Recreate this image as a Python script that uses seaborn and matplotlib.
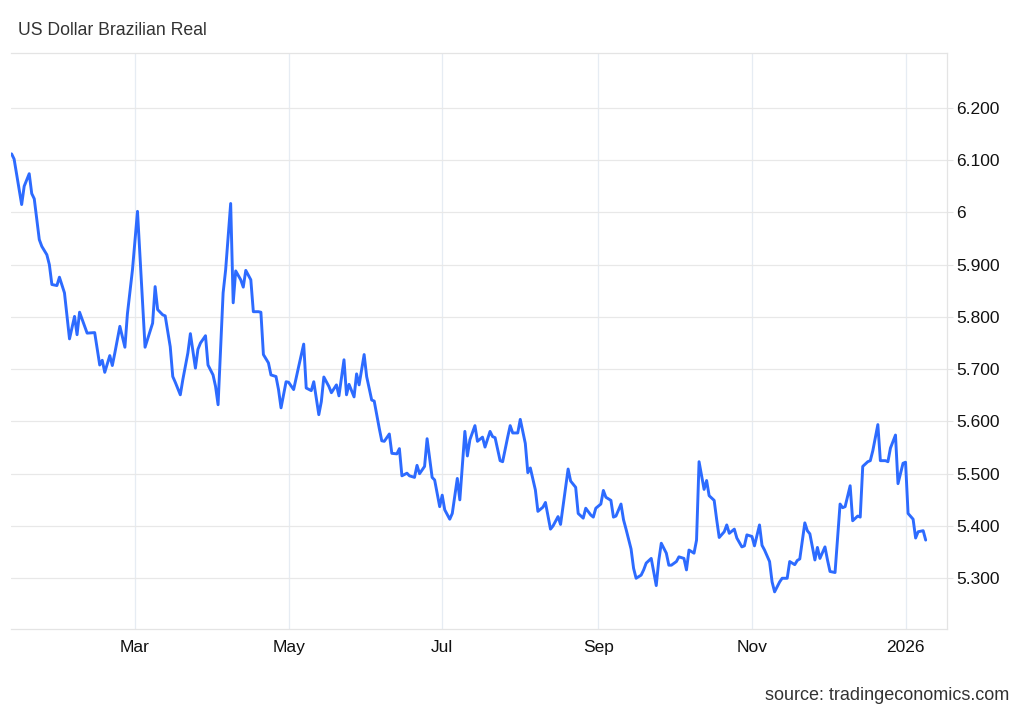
# Gráfico del tipo de cambio USD/BRL (último año)
import pandas as pd
import numpy as np
import matplotlib
matplotlib.use('Agg')
import matplotlib.pyplot as plt
import seaborn as sns

# Datos: día del año (desde 2025-01-01) y cotización
dias = [10, 11, 14, 15, 17, 18, 19, 21, 22, 24, 25, 26, 28, 29, 31, 33, 35, 36, 37, 40,
        43, 45, 46, 47, 49, 50, 51, 53, 55, 56, 58, 60, 63, 66, 67, 68, 70, 71, 73, 74,
        75, 77, 78, 80, 81, 83, 84, 85, 87, 88, 90, 91, 92, 94, 95, 97, 98, 99, 101, 102,
        103, 105, 106, 108, 109, 110, 112, 113, 115, 116, 117, 119, 120, 122, 123, 124, 126, 127, 129, 130,
        132, 133, 134, 136, 137, 139, 140, 142, 143, 144, 146, 147, 148, 150, 151, 153, 154, 156, 157, 158,
        160, 161, 163, 164, 165, 167, 168, 170, 171, 172, 174, 175, 177, 178, 180, 181, 182, 184, 185, 187,
        188, 190, 191, 192, 194, 195, 197, 198, 200, 201, 202, 204, 205, 207, 208, 209, 211, 212, 214, 215,
        216, 218, 219, 221, 222, 224, 225, 227, 228, 229, 231, 232, 234, 235, 237, 238, 240, 241, 242, 244,
        245, 246, 248, 249, 250, 252, 253, 254, 256, 257, 258, 260, 261, 262, 264, 266, 267, 268, 270, 271,
        272, 274, 275, 277, 278, 279, 281, 282, 283, 285, 286, 287, 289, 290, 291, 293, 294, 295, 297, 298,
        300, 301, 302, 304, 305, 307, 308, 309, 311, 312, 313, 315, 316, 318, 319, 321, 322, 323, 325, 326,
        327, 329, 330, 331, 333, 334, 335, 337, 339, 340, 341, 343, 344, 346, 347, 348, 350, 351, 352, 354,
        355, 357, 358, 359, 361, 362, 364, 365, 366, 368, 369, 370, 372, 373]

tasa = [6.112, 6.102, 6.015, 6.050, 6.074, 6.036, 6.026, 5.948, 5.935, 5.919, 5.900, 5.862, 5.860, 5.876, 5.846, 5.758, 5.801, 5.766, 5.809, 5.769,
        5.770, 5.708, 5.717, 5.694, 5.726, 5.707, 5.731, 5.782, 5.742, 5.806, 5.890, 6.002, 5.742, 5.788, 5.858, 5.814, 5.804, 5.802, 5.743, 5.686,
        5.675, 5.651, 5.680, 5.731, 5.768, 5.702, 5.738, 5.750, 5.764, 5.708, 5.689, 5.667, 5.632, 5.846, 5.890, 6.017, 5.827, 5.888, 5.871, 5.857,
        5.889, 5.871, 5.810, 5.810, 5.809, 5.728, 5.712, 5.689, 5.686, 5.661, 5.626, 5.676, 5.675, 5.661, 5.683, 5.705, 5.748, 5.664, 5.659, 5.676,
        5.613, 5.638, 5.685, 5.667, 5.655, 5.670, 5.649, 5.718, 5.651, 5.671, 5.647, 5.691, 5.670, 5.728, 5.686, 5.641, 5.639, 5.587, 5.563, 5.562,
        5.576, 5.539, 5.538, 5.548, 5.496, 5.501, 5.496, 5.493, 5.516, 5.500, 5.514, 5.567, 5.493, 5.488, 5.437, 5.459, 5.431, 5.413, 5.424, 5.491,
        5.450, 5.581, 5.534, 5.565, 5.592, 5.562, 5.570, 5.551, 5.581, 5.571, 5.569, 5.525, 5.523, 5.570, 5.592, 5.578, 5.578, 5.604, 5.558, 5.502,
        5.511, 5.469, 5.428, 5.436, 5.445, 5.394, 5.400, 5.418, 5.403, 5.438, 5.509, 5.486, 5.474, 5.424, 5.415, 5.434, 5.421, 5.417, 5.434, 5.442,
        5.468, 5.455, 5.449, 5.417, 5.419, 5.442, 5.412, 5.394, 5.356, 5.319, 5.300, 5.306, 5.316, 5.329, 5.338, 5.286, 5.334, 5.367, 5.348, 5.325,
        5.325, 5.332, 5.341, 5.338, 5.316, 5.354, 5.348, 5.373, 5.523, 5.470, 5.487, 5.458, 5.449, 5.412, 5.378, 5.389, 5.402, 5.386, 5.394, 5.377,
        5.360, 5.362, 5.383, 5.380, 5.362, 5.402, 5.363, 5.354, 5.332, 5.293, 5.274, 5.293, 5.300, 5.300, 5.332, 5.326, 5.334, 5.337, 5.406, 5.391,
        5.385, 5.335, 5.359, 5.338, 5.360, 5.335, 5.313, 5.311, 5.442, 5.435, 5.437, 5.477, 5.410, 5.419, 5.417, 5.514, 5.523, 5.525, 5.544, 5.594,
        5.525, 5.525, 5.523, 5.549, 5.574, 5.481, 5.520, 5.522, 5.424, 5.413, 5.377, 5.389, 5.391, 5.373]

# Marcas de los ejes
meses = ['2025-03-01', '2025-05-01', '2025-07-01', '2025-09-01', '2025-11-01', '2026-01-01']
etiquetas_meses = ['Mar', 'May', 'Jul', 'Sep', 'Nov', '2026']
niveles = [5.3, 5.4, 5.5, 5.6, 5.7, 5.8, 5.9, 6.0, 6.1, 6.2]
etiquetas_niveles = ['5.300', '5.400', '5.500', '5.600', '5.700', '5.800', '5.900', '6', '6.100', '6.200']

df = pd.DataFrame({
    'fecha': pd.Timestamp('2025-01-01') + pd.to_timedelta(dias, unit='D'),
    'tasa': tasa,
})

sns.set_style('white')
plt.rcParams['font.family'] = ['Liberation Sans', 'DejaVu Sans']

fig = plt.figure(figsize=(10.24, 7.10), dpi=100)
ax = fig.add_axes([0.0107, 0.1134, 0.914, 0.812])

sns.lineplot(data=df, x='fecha', y='tasa', ax=ax, color='#2D6BFF', linewidth=2.1)

ax.set_xlabel('')
ax.set_ylabel('')
ax.set_xlim(pd.Timestamp('2025-01-10 18:00'), pd.Timestamp('2026-01-17 10:00'))
ax.set_ylim(5.202, 6.305)

ax.set_xticks(pd.to_datetime(meses))
ax.set_xticklabels(etiquetas_meses)
ax.set_yticks(niveles)
ax.set_yticklabels(etiquetas_niveles)
ax.yaxis.tick_right()

ax.tick_params(axis='x', length=0, pad=7.5, labelsize=12.5, labelcolor='#111111')
ax.tick_params(axis='y', length=4.3, width=0.8, color='#e4e4e4', pad=2.2,
               labelsize=12.5, labelcolor='#111111')

# Rejilla
ax.set_axisbelow(True)
ax.grid(axis='y', color='#e8e8e8', linewidth=0.9)
ax.grid(axis='x', color='#e6ecf3', linewidth=0.9)

for lado in ['top', 'right', 'bottom']:
    ax.spines[lado].set_color('#e4e4e4')
    ax.spines[lado].set_linewidth(0.9)
ax.spines['left'].set_visible(False)

# Textos
fig.text(0.018, 1 - 35 / 710, 'US Dollar Brazilian Real', fontsize=12.7,
         color='#333333', ha='left', va='baseline')
fig.text(1009 / 1024, 1 - 700 / 710, 'source: tradingeconomics.com', fontsize=13,
         color='#333333', ha='right', va='baseline')

plt.savefig('out.png', dpi=100)
